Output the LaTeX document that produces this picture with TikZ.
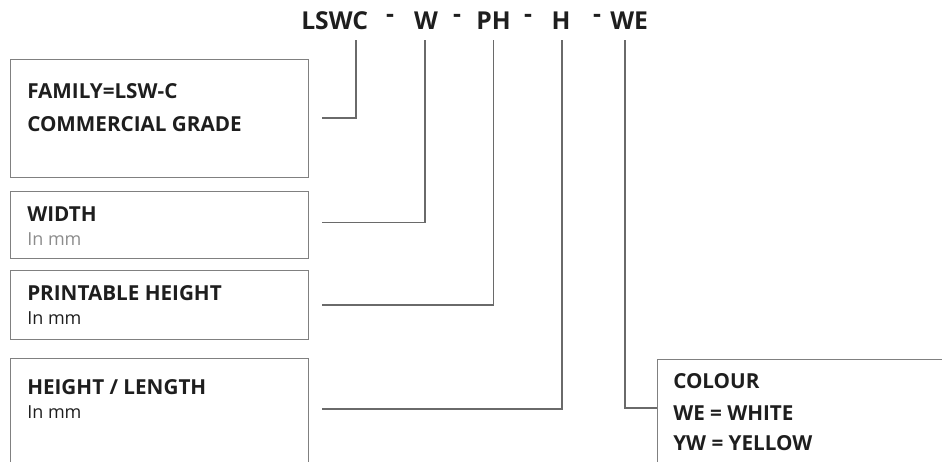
\documentclass[tikz,border=0pt]{standalone}
\usepackage{fontspec}
\setmainfont{Open Sans}
\usetikzlibrary{positioning,calc}

\definecolor{boxgray}{HTML}{808080}
\definecolor{linegray}{HTML}{6A6A6A}
\definecolor{txtblack}{HTML}{1E1E1E}
\definecolor{subgray}{HTML}{8C8C8C}
\def\pxu{0.75pt}

\tikzset{
	infobox/.style={draw=boxgray, line width=0.8pt, anchor=north west, inner sep=0pt},
	codepart/.style={font=\fontsize{18.5}{22}\selectfont\bfseries, text=txtblack, inner sep=0pt, anchor=base},
	headline/.style={font=\fontsize{15.5}{18}\selectfont\bfseries, text=txtblack, inner sep=0pt, anchor=base west},
	subline/.style={font=\fontsize{13.5}{16}\selectfont, text=txtblack, inner sep=0pt, anchor=base west},
	leader/.style={draw=linegray, line width=1pt}
}

\begin{document}
\begin{tikzpicture}[x=0.75pt, y=-0.75pt]
	\useasboundingbox (0, 0) rectangle (942, 461);
	\clip (0, 0) rectangle (942, 461);

	% part number
	\node[codepart, anchor=base west] (lswc) at (301, 29) {LSWC};
	\node[codepart] (dash1) at (390, 22.5) {-};
	\node[codepart] (wpart) at (426, 29) {W};
	\node[codepart] (dash2) at (457, 22.5) {-};
	\node[codepart] (phpart) at (493.5, 29) {PH};
	\node[codepart] (dash3) at (528, 22.5) {-};
	\node[codepart] (hpart) at (561, 29) {H};
	\node[codepart] (dash4) at (597, 22.5) {-};
	\node[codepart, anchor=base west] (wepart) at (610, 29) {WE};

	% boxes
	\node[infobox, minimum width=298*\pxu, minimum height=118*\pxu] (family) at (10, 59) {};
	\node[infobox, minimum width=298*\pxu, minimum height=67*\pxu] (width) at (10, 191) {};
	\node[infobox, minimum width=298*\pxu, minimum height=69*\pxu] (printh) at (10, 270) {};
	\node[infobox, minimum width=298*\pxu, minimum height=120*\pxu] (height) at (10, 358) {};
	\node[infobox, minimum width=300*\pxu, minimum height=120*\pxu] (colour) at (657, 359) {};

	% box texts
	\node[headline] (famA) at (27, 98) {FAMILY=LSW-C};
	\node[headline] (famB) at (27, 131) {COMMERCIAL GRADE};
	\node[headline] (widA) at (27, 221) {WIDTH};
	\node[subline, text=subgray] (widB) at (27, 245) {In mm};
	\node[headline] (prtA) at (27, 300) {PRINTABLE HEIGHT};
	\node[subline] (prtB) at (27, 324) {In mm};
	\node[headline] (hgtA) at (27, 394) {HEIGHT / LENGTH};
	\node[subline] (hgtB) at (27, 418) {In mm};
	\node[headline] (colA) at (673, 388) {COLOUR};
	\node[headline] (colB) at (673, 420) {WE = WHITE};
	\node[headline] (colC) at (673, 450) {YW = YELLOW};

	% leaders
	\coordinate (topL) at (356, 40);
	\coordinate (topW) at (425, 40);
	\coordinate (topP) at (493.5, 40);
	\coordinate (topH) at (562, 40);
	\coordinate (topE) at (625, 40);
	\coordinate (endL) at (322, 118);
	\coordinate (endW) at (322, 222.5);
	\coordinate (endP) at (322, 305);
	\coordinate (endH) at (322, 409);
	\draw[leader] (topL) |- (endL);
	\draw[leader] (topW) |- (endW);
	\draw[leader] (topP) |- (endP);
	\draw[leader] (topH) |- (endH);
	\draw[leader] (topE) |- (colour.west |- 0, 408);
\end{tikzpicture}
\end{document}
